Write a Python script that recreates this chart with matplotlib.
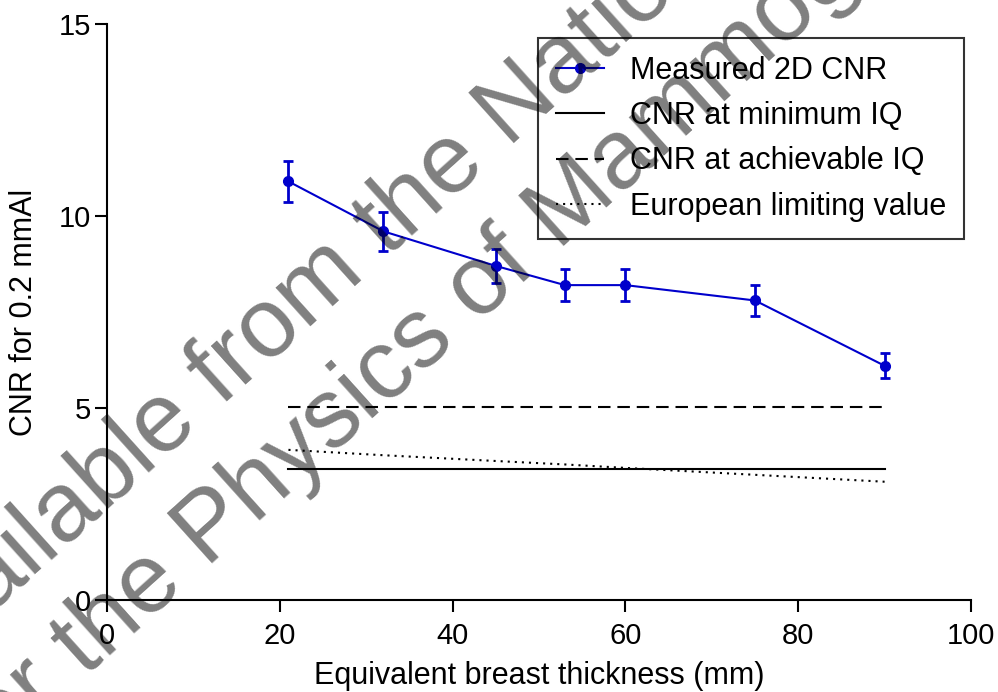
import numpy as np
import matplotlib
matplotlib.use("Agg")
import matplotlib.pyplot as plt

plt.rcParams['font.family'] = ['Liberation Sans', 'DejaVu Sans']

# measured data
thickness = [21, 32, 45, 53, 60, 75, 90]
cnr = [10.9, 9.6, 8.7, 8.2, 8.2, 7.8, 6.1]
cnr_err = [0.53, 0.5, 0.45, 0.42, 0.42, 0.4, 0.32]

# reference levels
cnr_min_iq = [3.4, 3.4, 3.4, 3.4, 3.4, 3.4, 3.4]
cnr_achievable_iq = [5.02, 5.02, 5.02, 5.02, 5.02, 5.02, 5.02]
euro_limit = [3.91, 3.77, 3.62, 3.53, 3.44, 3.26, 3.08]

xticks = [0, 20, 40, 60, 80, 100]
yticks = [0, 5, 10, 15]

W, H = 998, 692
fig = plt.figure(figsize=(W / 100, H / 100), dpi=100)
ax = fig.add_axes([107 / W, 1 - 600 / H, (971 - 107) / W, (600 - 24) / H])
ax.patch.set_alpha(0)

blue = '#0000cc'
ax.errorbar(thickness, cnr, yerr=cnr_err, fmt='none', ecolor=blue,
            elinewidth=2, capsize=3.8, capthick=2, zorder=5)
ax.plot(thickness, cnr, color=blue, lw=1.5, marker='o', ms=7,
        label='Measured 2D CNR', zorder=6)
ax.plot(thickness, cnr_min_iq, color='black', lw=1.5, label='CNR at minimum IQ')
ax.plot(thickness, cnr_achievable_iq, color='black', lw=1.5, ls=(0, (6, 3.3)),
        label='CNR at achievable IQ')
ax.plot(thickness, euro_limit, color='black', lw=1.5, ls=(0, (1, 2.4)),
        label='European limiting value')

ax.set_xlim(0, 100)
ax.set_ylim(0, 15)
ax.set_xticks(xticks)
ax.set_yticks(yticks)
for s in ['top', 'right']:
    ax.spines[s].set_visible(False)
for s in ['left', 'bottom']:
    ax.spines[s].set_linewidth(1.5)
ax.tick_params(axis='both', labelsize=21, width=1.5, length=8.5)
ax.tick_params(axis='x', pad=7)
ax.tick_params(axis='y', pad=3)
ax.set_xlabel('Equivalent breast thickness (mm)', fontsize=22, labelpad=8)
ax.set_ylabel('CNR for 0.2 mmAl', fontsize=22, labelpad=14)

leg = ax.legend(loc='upper right', bbox_to_anchor=(964 / W, 1 - 38 / H),
                bbox_transform=fig.transFigure, fontsize=22, frameon=True,
                fancybox=False, edgecolor='black', handlelength=1.57,
                handletextpad=0.85, labelspacing=0.5, borderpad=0.58,
                borderaxespad=0)
leg.get_frame().set_linewidth(1.5)
leg.get_frame().set_facecolor('none')

# watermark
ang = 42
em = 98
u = np.array([np.cos(np.radians(ang)), -np.sin(np.radians(ang))])
v = np.array([-np.sin(np.radians(ang)), -np.cos(np.radians(ang))])
base2 = np.array([-20.0, 772.0])
base1 = base2 + 110 * v
for (px, py), txt in [(base1, 'Available from the National Coordinating Centre'),
                      (base2, 'for the Physics of Mammography')]:
    fig.text(px / W, 1 - py / H, txt, fontsize=em * 0.72, color='black', alpha=0.5,
             rotation=ang, rotation_mode='anchor', ha='left', va='baseline',
             zorder=20)

fig.savefig('out.png', dpi=100)
